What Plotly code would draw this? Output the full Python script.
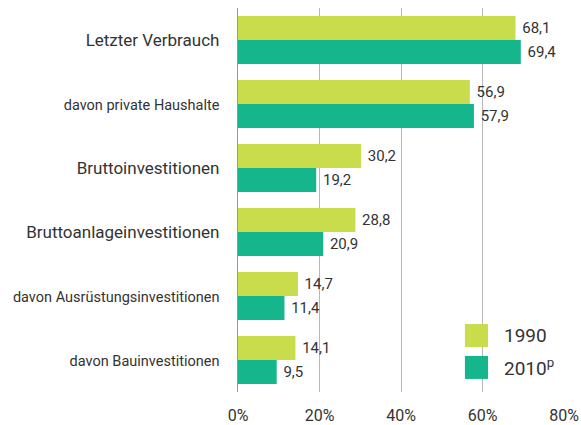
import plotly.graph_objects as go

categories = ["Letzter Verbrauch", "davon private Haushalte", "Bruttoinvestitionen",
              "Bruttoanlageinvestitionen", "davon Ausrüstungsinvestitionen", "davon Bauinvestitionen"]
small = [False, True, False, False, True, True]
v1990 = [68.1, 56.9, 30.2, 28.8, 14.7, 14.1]
v2010 = [69.4, 57.9, 19.2, 20.9, 11.4, 9.5]
xticks = [0, 20, 40, 60, 80]
xticklabels = ["0%", "20%", "40%", "60%", "80%"]

c1990 = "#c8dc4c"
c2010 = "#16b68c"
txt = "#333333"
FONT = "Roboto, Liberation Sans, sans-serif"

ticktext = [f"<span style='font-size:14.5px'>{c}</span>" if s else c for c, s in zip(categories, small)]

fig = go.Figure()
fig.add_trace(go.Bar(y=categories, x=v1990, orientation="h", name="1990",
                     marker=dict(color=c1990, line=dict(width=0)),
                     texttemplate=" %{x:.1f}", textposition="outside", cliponaxis=False,
                     textfont=dict(size=15, color=txt, family=FONT)))
fig.add_trace(go.Bar(y=categories, x=v2010, orientation="h", name="2010<sup>p</sup>",
                     marker=dict(color=c2010, line=dict(width=0)),
                     texttemplate=" %{x:.1f}", textposition="outside", cliponaxis=False,
                     textfont=dict(size=15, color=txt, family=FONT)))

fig.update_layout(
    width=581, height=425,
    margin=dict(l=238, r=17, t=8, b=33, autoexpand=False),
    paper_bgcolor="white", plot_bgcolor="white",
    barmode="group", bargap=0.25, bargroupgap=0,
    separators=",.",
    showlegend=False,
    font=dict(family=FONT, color=txt),
    xaxis=dict(range=[0, 80], tickvals=xticks, ticktext=xticklabels, automargin=False,
               showgrid=True, gridcolor="#b8b8b8", gridwidth=1, zeroline=False,
               showline=False, ticks="outside", ticklen=9, tickcolor="rgba(0,0,0,0)",
               tickfont=dict(size=16, color=txt), fixedrange=True),
    yaxis=dict(autorange="reversed", tickvals=categories, ticktext=ticktext, automargin=False,
               showline=True, linecolor="#999999", linewidth=1.3,
               showgrid=False, ticks="", ticklabelstandoff=14,
               tickfont=dict(size=17, color=txt), fixedrange=True),
)

# manual legend
legend_items = [("1990", c1990, 0.177), ("2010<sup>p</sup>", c2010, 0.094)]
for label, col, ytop in legend_items:
    fig.add_shape(type="rect", xref="paper", yref="paper",
                  x0=0.696, x1=0.767, y0=ytop - 0.06, y1=ytop,
                  fillcolor=col, line=dict(width=0))
    fig.add_annotation(xref="paper", yref="paper", x=0.81, y=ytop - 0.03,
                       text=label, showarrow=False, xanchor="left", yanchor="middle",
                       font=dict(size=19, color=txt, family=FONT))

fig.write_html("out.html", config={"displayModeBar": False},
               post_script="document.body.style.margin='0';document.body.style.overflow='hidden';")
